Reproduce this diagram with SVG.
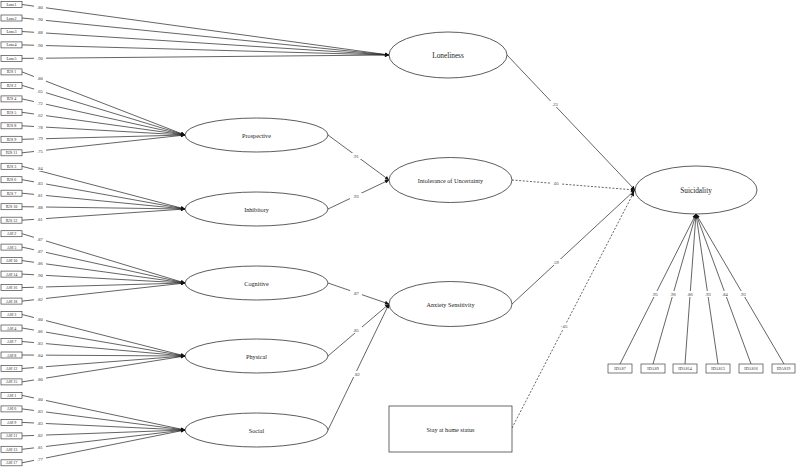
<svg xmlns="http://www.w3.org/2000/svg" width="796" height="468" viewBox="0 0 796 468">
<style>
.bg{fill:#fff}
.ind rect{fill:#fff;stroke:#444;stroke-width:0.7}
.ind text{font-family:"Liberation Serif",serif;font-size:4px;fill:#222;text-anchor:middle;dominant-baseline:central}
.lat ellipse{fill:#fff;stroke:#333;stroke-width:0.8}
.lat text{font-family:"Liberation Serif",serif;font-size:6.2px;fill:#222;text-anchor:middle;dominant-baseline:central}
.big text{font-size:7.3px}
.obs rect{fill:#fff;stroke:#444;stroke-width:0.8}
.obs text{font-family:"Liberation Serif",serif;font-size:6.2px;fill:#222;text-anchor:middle;dominant-baseline:central}
.c line{stroke:#222;stroke-width:0.7;fill:none}
.c .d{stroke-dasharray:2,1.6}
.c .a{marker-end:url(#ah)}
.lb rect{fill:#fff}
.lb text{font-family:"Liberation Serif",serif;font-size:4.5px;fill:#333;text-anchor:middle;dominant-baseline:central}
</style>
<defs>
<marker id="ah" viewBox="0 0 10 10" refX="10" refY="5" markerWidth="6" markerHeight="4" markerUnits="userSpaceOnUse" orient="auto">
<path d="M0,0 L10,5 L0,10 Z" fill="#111"/>
</marker>
</defs>
<rect class="bg" x="0" y="0" width="796" height="468"/>

<g id="connectors" class="c">
<line class="a" x1="22" y1="4.5" x2="389" y2="55"/>
<line class="a" x1="22" y1="18" x2="389" y2="55"/>
<line class="a" x1="22" y1="31.5" x2="389" y2="55"/>
<line class="a" x1="22" y1="44.9" x2="389" y2="55"/>
<line class="a" x1="22" y1="58.4" x2="389" y2="55"/>
<line class="a" x1="22" y1="71.9" x2="185" y2="135"/>
<line class="a" x1="22" y1="85.4" x2="185" y2="135"/>
<line class="a" x1="22" y1="98.9" x2="185" y2="135"/>
<line class="a" x1="22" y1="112.3" x2="185" y2="135"/>
<line class="a" x1="22" y1="125.8" x2="185" y2="135"/>
<line class="a" x1="22" y1="139.3" x2="185" y2="135"/>
<line class="a" x1="22" y1="152.8" x2="185" y2="135"/>
<line class="a" x1="22" y1="166.3" x2="185" y2="209"/>
<line class="a" x1="22" y1="179.7" x2="185" y2="209"/>
<line class="a" x1="22" y1="193.2" x2="185" y2="209"/>
<line class="a" x1="22" y1="206.7" x2="185" y2="209"/>
<line class="a" x1="22" y1="220.2" x2="185" y2="209"/>
<line class="a" x1="22" y1="233.7" x2="185" y2="283"/>
<line class="a" x1="22" y1="247.1" x2="185" y2="283"/>
<line class="a" x1="22" y1="260.6" x2="185" y2="283"/>
<line class="a" x1="22" y1="274.1" x2="185" y2="283"/>
<line class="a" x1="22" y1="287.6" x2="185" y2="283"/>
<line class="a" x1="22" y1="301.1" x2="185" y2="283"/>
<line class="a" x1="22" y1="314.5" x2="185" y2="356"/>
<line class="a" x1="22" y1="328" x2="185" y2="356"/>
<line class="a" x1="22" y1="341.5" x2="185" y2="356"/>
<line class="a" x1="22" y1="355" x2="185" y2="356"/>
<line class="a" x1="22" y1="368.5" x2="185" y2="356"/>
<line class="a" x1="22" y1="381.9" x2="185" y2="356"/>
<line class="a" x1="22" y1="395.4" x2="185" y2="430"/>
<line class="a" x1="22" y1="408.9" x2="185" y2="430"/>
<line class="a" x1="22" y1="422.4" x2="185" y2="430"/>
<line class="a" x1="22" y1="435.9" x2="185" y2="430"/>
<line class="a" x1="22" y1="449.3" x2="185" y2="430"/>
<line class="a" x1="22" y1="462.8" x2="185" y2="430"/>
<line class="a" x1="328" y1="135" x2="389" y2="180"/>
<line class="a" x1="328" y1="209" x2="389" y2="180"/>
<line class="a" x1="328" y1="283" x2="389" y2="304"/>
<line class="a" x1="328" y1="356" x2="389" y2="304"/>
<line class="a" x1="328" y1="430" x2="389" y2="304"/>
<line class="a" x1="507" y1="55" x2="635" y2="190"/>
<line class="a d" x1="512" y1="180" x2="635" y2="190"/>
<line class="a" x1="512" y1="304" x2="635" y2="190"/>
<line class="a d" x1="512" y1="428" x2="634" y2="192"/>
<line class="a" x1="620" y1="364" x2="696" y2="214"/>
<line class="a" x1="653" y1="364" x2="696" y2="214"/>
<line class="a" x1="685" y1="364" x2="696" y2="214"/>
<line class="a" x1="718" y1="364" x2="696" y2="214"/>
<line class="a" x1="751" y1="364" x2="696" y2="214"/>
<line class="a" x1="784" y1="364" x2="696" y2="214"/>
</g>

<g id="loadings" class="lb">
<rect x="34" y="4" width="12" height="6"/><text x="40" y="7">.80</text>
<rect x="34" y="16.6" width="12" height="6"/><text x="40" y="19.6">.90</text>
<rect x="34" y="29.4" width="12" height="6"/><text x="40" y="32.4">.88</text>
<rect x="34" y="42.5" width="12" height="6"/><text x="40" y="45.5">.90</text>
<rect x="34" y="55.3" width="12" height="6"/><text x="40" y="58.3">.90</text>
<rect x="34" y="75.9" width="12" height="6"/><text x="40" y="78.9">.80</text>
<rect x="34" y="88.3" width="12" height="6"/><text x="40" y="91.3">.65</text>
<rect x="34" y="100.9" width="12" height="6"/><text x="40" y="103.9">.72</text>
<rect x="34" y="112.8" width="12" height="6"/><text x="40" y="115.8">.62</text>
<rect x="34" y="124.8" width="12" height="6"/><text x="40" y="127.8">.78</text>
<rect x="34" y="135.9" width="12" height="6"/><text x="40" y="138.9">.79</text>
<rect x="34" y="148" width="12" height="6"/><text x="40" y="151">.75</text>
<rect x="34" y="165" width="12" height="6"/><text x="40" y="168">.84</text>
<rect x="34" y="180" width="12" height="6"/><text x="40" y="183">.83</text>
<rect x="34" y="192" width="12" height="6"/><text x="40" y="195">.81</text>
<rect x="34" y="204" width="12" height="6"/><text x="40" y="207">.88</text>
<rect x="34" y="216" width="12" height="6"/><text x="40" y="219">.81</text>
<rect x="34" y="236" width="12" height="6"/><text x="40" y="239">.87</text>
<rect x="34" y="248" width="12" height="6"/><text x="40" y="251">.87</text>
<rect x="34" y="260" width="12" height="6"/><text x="40" y="263">.86</text>
<rect x="34" y="272" width="12" height="6"/><text x="40" y="275">.90</text>
<rect x="34" y="284" width="12" height="6"/><text x="40" y="287">.92</text>
<rect x="34" y="296" width="12" height="6"/><text x="40" y="299">.82</text>
<rect x="34" y="316" width="12" height="6"/><text x="40" y="319">.80</text>
<rect x="34" y="328" width="12" height="6"/><text x="40" y="331">.86</text>
<rect x="34" y="340" width="12" height="6"/><text x="40" y="343">.83</text>
<rect x="34" y="352" width="12" height="6"/><text x="40" y="355">.84</text>
<rect x="34" y="364" width="12" height="6"/><text x="40" y="367">.88</text>
<rect x="34" y="376" width="12" height="6"/><text x="40" y="379">.80</text>
<rect x="34" y="396" width="12" height="6"/><text x="40" y="399">.80</text>
<rect x="34" y="408" width="12" height="6"/><text x="40" y="411">.83</text>
<rect x="34" y="420" width="12" height="6"/><text x="40" y="423">.83</text>
<rect x="34" y="432" width="12" height="6"/><text x="40" y="435">.82</text>
<rect x="34" y="444" width="12" height="6"/><text x="40" y="447">.81</text>
<rect x="34" y="456" width="12" height="6"/><text x="40" y="459">.77</text>
<rect x="350" y="153" width="12" height="6"/><text x="356" y="156">.91</text>
<rect x="350" y="193" width="12" height="6"/><text x="356" y="196">.93</text>
<rect x="350" y="290" width="12" height="6"/><text x="356" y="293">.87</text>
<rect x="350" y="327" width="12" height="6"/><text x="356" y="330">.85</text>
<rect x="351" y="371" width="12" height="6"/><text x="357" y="374">.82</text>
<rect x="549" y="101" width="12" height="6"/><text x="555" y="104">.23</text>
<rect x="550" y="180" width="12" height="6"/><text x="556" y="183">.05</text>
<rect x="550" y="259" width="12" height="6"/><text x="556" y="262">.59</text>
<rect x="557" y="323" width="14" height="6"/><text x="564" y="326">-.05</text>
<rect x="649" y="291" width="12" height="6"/><text x="655" y="294">.95</text>
<rect x="667" y="291" width="12" height="6"/><text x="673" y="294">.96</text>
<rect x="684" y="291" width="12" height="6"/><text x="690" y="294">.86</text>
<rect x="702" y="291" width="12" height="6"/><text x="708" y="294">.93</text>
<rect x="719" y="291" width="12" height="6"/><text x="725" y="294">.84</text>
<rect x="737" y="291" width="12" height="6"/><text x="743" y="294">.93</text>
</g>

<g id="Lone1" class="ind"><rect x="1" y="1.5" width="21" height="6"/><text x="11.5" y="4.5">Lone1</text></g>
<g id="Lone2" class="ind"><rect x="1" y="15" width="21" height="6"/><text x="11.5" y="18">Lone2</text></g>
<g id="Lone3" class="ind"><rect x="1" y="28.5" width="21" height="6"/><text x="11.5" y="31.5">Lone3</text></g>
<g id="Lone4" class="ind"><rect x="1" y="41.9" width="21" height="6"/><text x="11.5" y="44.9">Lone4</text></g>
<g id="Lone5" class="ind"><rect x="1" y="55.4" width="21" height="6"/><text x="11.5" y="58.4">Lone5</text></g>
<g id="IUS1" class="ind"><rect x="1" y="68.9" width="21" height="6"/><text x="11.5" y="71.9">IUS 1</text></g>
<g id="IUS2" class="ind"><rect x="1" y="82.4" width="21" height="6"/><text x="11.5" y="85.4">IUS 2</text></g>
<g id="IUS4" class="ind"><rect x="1" y="95.9" width="21" height="6"/><text x="11.5" y="98.9">IUS 4</text></g>
<g id="IUS5" class="ind"><rect x="1" y="109.3" width="21" height="6"/><text x="11.5" y="112.3">IUS 5</text></g>
<g id="IUS8" class="ind"><rect x="1" y="122.8" width="21" height="6"/><text x="11.5" y="125.8">IUS 8</text></g>
<g id="IUS9" class="ind"><rect x="1" y="136.3" width="21" height="6"/><text x="11.5" y="139.3">IUS 9</text></g>
<g id="IUS11" class="ind"><rect x="1" y="149.8" width="21" height="6"/><text x="11.5" y="152.8">IUS 11</text></g>
<g id="IUS3" class="ind"><rect x="1" y="163.3" width="21" height="6"/><text x="11.5" y="166.3">IUS 3</text></g>
<g id="IUS6" class="ind"><rect x="1" y="176.7" width="21" height="6"/><text x="11.5" y="179.7">IUS 6</text></g>
<g id="IUS7" class="ind"><rect x="1" y="190.2" width="21" height="6"/><text x="11.5" y="193.2">IUS 7</text></g>
<g id="IUS10" class="ind"><rect x="1" y="203.7" width="21" height="6"/><text x="11.5" y="206.7">IUS 10</text></g>
<g id="IUS12" class="ind"><rect x="1" y="217.2" width="21" height="6"/><text x="11.5" y="220.2">IUS 12</text></g>
<g id="ASI2" class="ind"><rect x="1" y="230.7" width="21" height="6"/><text x="11.5" y="233.7">ASI 2</text></g>
<g id="ASI5" class="ind"><rect x="1" y="244.1" width="21" height="6"/><text x="11.5" y="247.1">ASI 5</text></g>
<g id="ASI10" class="ind"><rect x="1" y="257.6" width="21" height="6"/><text x="11.5" y="260.6">ASI 10</text></g>
<g id="ASI14" class="ind"><rect x="1" y="271.1" width="21" height="6"/><text x="11.5" y="274.1">ASI 14</text></g>
<g id="ASI16" class="ind"><rect x="1" y="284.6" width="21" height="6"/><text x="11.5" y="287.6">ASI 16</text></g>
<g id="ASI18" class="ind"><rect x="1" y="298.1" width="21" height="6"/><text x="11.5" y="301.1">ASI 18</text></g>
<g id="ASI3" class="ind"><rect x="1" y="311.5" width="21" height="6"/><text x="11.5" y="314.5">ASI 3</text></g>
<g id="ASI4" class="ind"><rect x="1" y="325" width="21" height="6"/><text x="11.5" y="328">ASI 4</text></g>
<g id="ASI7" class="ind"><rect x="1" y="338.5" width="21" height="6"/><text x="11.5" y="341.5">ASI 7</text></g>
<g id="ASI8" class="ind"><rect x="1" y="352" width="21" height="6"/><text x="11.5" y="355">ASI 8</text></g>
<g id="ASI12" class="ind"><rect x="1" y="365.5" width="21" height="6"/><text x="11.5" y="368.5">ASI 12</text></g>
<g id="ASI15" class="ind"><rect x="1" y="378.9" width="21" height="6"/><text x="11.5" y="381.9">ASI 15</text></g>
<g id="ASI1" class="ind"><rect x="1" y="392.4" width="21" height="6"/><text x="11.5" y="395.4">ASI 1</text></g>
<g id="ASI6" class="ind"><rect x="1" y="405.9" width="21" height="6"/><text x="11.5" y="408.9">ASI 6</text></g>
<g id="ASI9" class="ind"><rect x="1" y="419.4" width="21" height="6"/><text x="11.5" y="422.4">ASI 9</text></g>
<g id="ASI11" class="ind"><rect x="1" y="432.9" width="21" height="6"/><text x="11.5" y="435.9">ASI 11</text></g>
<g id="ASI13" class="ind"><rect x="1" y="446.3" width="21" height="6"/><text x="11.5" y="449.3">ASI 13</text></g>
<g id="ASI17" class="ind"><rect x="1" y="459.8" width="21" height="6"/><text x="11.5" y="462.8">ASI 17</text></g>

<g id="Loneliness" class="lat big"><ellipse cx="448" cy="55" rx="59" ry="23"/><text x="448" y="55">Loneliness</text></g>
<g id="Prospective" class="lat"><ellipse cx="256.5" cy="135" rx="71.5" ry="17"/><text x="256.5" y="135">Prospective</text></g>
<g id="Inhibitory" class="lat"><ellipse cx="256.5" cy="209" rx="71.5" ry="17"/><text x="256.5" y="209">Inhibitory</text></g>
<g id="Cognitive" class="lat"><ellipse cx="256.5" cy="283" rx="71.5" ry="17"/><text x="256.5" y="283">Cognitive</text></g>
<g id="Physical" class="lat"><ellipse cx="256.5" cy="356" rx="71.5" ry="17"/><text x="256.5" y="356">Physical</text></g>
<g id="Social" class="lat"><ellipse cx="256.5" cy="430" rx="71.5" ry="17"/><text x="256.5" y="430">Social</text></g>
<g id="IoU" class="lat"><ellipse cx="450.5" cy="180" rx="61.5" ry="22.5"/><text x="450.5" y="180">Intolerance of Uncertainty</text></g>
<g id="AS" class="lat"><ellipse cx="450.5" cy="304" rx="61.5" ry="22.5"/><text x="450.5" y="304">Anxiety Sensitivity</text></g>
<g id="Suicidality" class="lat big"><ellipse cx="696" cy="190" rx="61" ry="24"/><text x="696" y="190">Suicidality</text></g>
<g id="StayAtHome" class="obs"><rect x="389" y="406" width="123" height="46"/><text x="450.5" y="429">Stay at home status</text></g>

<g id="IDAS7" class="ind"><rect x="608" y="364" width="24" height="9"/><text x="620" y="368.5">IDAS7</text></g>
<g id="IDAS9" class="ind"><rect x="641" y="364" width="24" height="9"/><text x="653" y="368.5">IDAS9</text></g>
<g id="IDAS14" class="ind"><rect x="673" y="364" width="24" height="9"/><text x="685" y="368.5">IDAS14</text></g>
<g id="IDAS13" class="ind"><rect x="706" y="364" width="24" height="9"/><text x="718" y="368.5">IDAS13</text></g>
<g id="IDAS16" class="ind"><rect x="739" y="364" width="24" height="9"/><text x="751" y="368.5">IDAS16</text></g>
<g id="IDAS19" class="ind"><rect x="772" y="364" width="23" height="9"/><text x="783.5" y="368.5">IDAS19</text></g>
</svg>
